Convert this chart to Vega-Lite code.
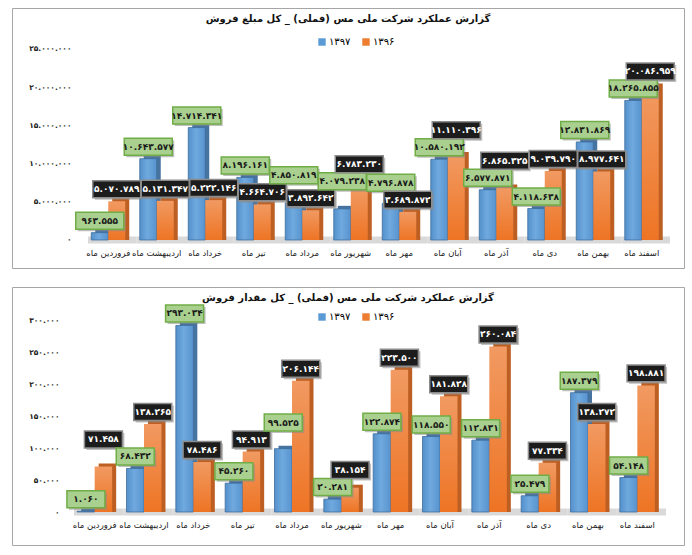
{
  "$schema": "https://vega.github.io/schema/vega-lite/v6.json",
  "padding": {"left": 11, "top": 7, "right": 0, "bottom": 0},
  "spacing": 17,
  "datasets": {
    "amount": [
      {"month": "فروردین ماه", "year": "۱۳۹۷", "value": 963555},
      {"month": "فروردین ماه", "year": "۱۳۹۶", "value": 5070789},
      {"month": "اردیبهشت ماه", "year": "۱۳۹۷", "value": 10643577},
      {"month": "اردیبهشت ماه", "year": "۱۳۹۶", "value": 5131347},
      {"month": "خرداد ماه", "year": "۱۳۹۷", "value": 14714341},
      {"month": "خرداد ماه", "year": "۱۳۹۶", "value": 5222146},
      {"month": "تیر ماه", "year": "۱۳۹۷", "value": 8196161},
      {"month": "تیر ماه", "year": "۱۳۹۶", "value": 4664706},
      {"month": "مرداد ماه", "year": "۱۳۹۷", "value": 4850819},
      {"month": "مرداد ماه", "year": "۱۳۹۶", "value": 3892642},
      {"month": "شهریور ماه", "year": "۱۳۹۷", "value": 4079238},
      {"month": "شهریور ماه", "year": "۱۳۹۶", "value": 6783230},
      {"month": "مهر ماه", "year": "۱۳۹۷", "value": 4796878},
      {"month": "مهر ماه", "year": "۱۳۹۶", "value": 3689872},
      {"month": "آبان ماه", "year": "۱۳۹۷", "value": 10580192},
      {"month": "آبان ماه", "year": "۱۳۹۶", "value": 11110396},
      {"month": "آذر ماه", "year": "۱۳۹۷", "value": 6577871},
      {"month": "آذر ماه", "year": "۱۳۹۶", "value": 6865325},
      {"month": "دی ماه", "year": "۱۳۹۷", "value": 4118638},
      {"month": "دی ماه", "year": "۱۳۹۶", "value": 9039790},
      {"month": "بهمن ماه", "year": "۱۳۹۷", "value": 12831869},
      {"month": "بهمن ماه", "year": "۱۳۹۶", "value": 8977641},
      {"month": "اسفند ماه", "year": "۱۳۹۷", "value": 18265855},
      {"month": "اسفند ماه", "year": "۱۳۹۶", "value": 20086959}
    ],
    "qty": [
      {"month": "فروردین ماه", "year": "۱۳۹۷", "value": 1060},
      {"month": "فروردین ماه", "year": "۱۳۹۶", "value": 71458},
      {"month": "اردیبهشت ماه", "year": "۱۳۹۷", "value": 68432},
      {"month": "اردیبهشت ماه", "year": "۱۳۹۶", "value": 138265},
      {"month": "خرداد ماه", "year": "۱۳۹۷", "value": 293034},
      {"month": "خرداد ماه", "year": "۱۳۹۶", "value": 78486},
      {"month": "تیر ماه", "year": "۱۳۹۷", "value": 45260},
      {"month": "تیر ماه", "year": "۱۳۹۶", "value": 94913},
      {"month": "مرداد ماه", "year": "۱۳۹۷", "value": 99525},
      {"month": "مرداد ماه", "year": "۱۳۹۶", "value": 206144},
      {"month": "شهریور ماه", "year": "۱۳۹۷", "value": 20281},
      {"month": "شهریور ماه", "year": "۱۳۹۶", "value": 38154},
      {"month": "مهر ماه", "year": "۱۳۹۷", "value": 122874},
      {"month": "مهر ماه", "year": "۱۳۹۶", "value": 223500},
      {"month": "آبان ماه", "year": "۱۳۹۷", "value": 118550},
      {"month": "آبان ماه", "year": "۱۳۹۶", "value": 181828},
      {"month": "آذر ماه", "year": "۱۳۹۷", "value": 112831},
      {"month": "آذر ماه", "year": "۱۳۹۶", "value": 260084},
      {"month": "دی ماه", "year": "۱۳۹۷", "value": 25479},
      {"month": "دی ماه", "year": "۱۳۹۶", "value": 77334},
      {"month": "بهمن ماه", "year": "۱۳۹۷", "value": 187379},
      {"month": "بهمن ماه", "year": "۱۳۹۶", "value": 138272},
      {"month": "اسفند ماه", "year": "۱۳۹۷", "value": 54148},
      {"month": "اسفند ماه", "year": "۱۳۹۶", "value": 198881}
    ]
  },
  "vconcat": [
    {
      "width": 672,
      "height": 260,
      "data": {"name": "amount"},
      "title": {"text": "گزارش عملکرد شرکت ملی مس (فملی) _ کل مبلغ فروش", "dy": 20},
      "encoding": {
        "x": {
          "field": "month", "type": "nominal",
          "sort": ["فروردین ماه", "اردیبهشت ماه", "خرداد ماه", "تیر ماه", "مرداد ماه", "شهریور ماه", "مهر ماه", "آبان ماه", "آذر ماه", "دی ماه", "بهمن ماه", "اسفند ماه"],
          "scale": {"range": [72, 654], "paddingInner": 0, "paddingOuter": 0},
          "axis": {"offset": -22}
        },
        "y": {
          "field": "value", "type": "quantitative",
          "scale": {"domain": [-3665000, 30366000], "nice": false, "zero": false},
          "axis": {"values": [0, 5000000, 10000000, 15000000, 20000000, 25000000], "offset": -59, "format": ",d"}
        }
      },
      "layer": [
        {
          "transform": [{"filter": "datum.year == '۱۳۹۷'"}],
          "mark": {"type": "bar", "xOffset": 4, "color": "#d9d9d9"},
          "encoding": {"y": {"datum": -450000}, "y2": {"datum": 450000}}
        },
        {
          "mark": {"type": "bar"},
          "encoding": {
            "y": {"datum": 0}, "y2": {"datum": 0},
            "color": {"field": "year", "type": "nominal", "title": null, "scale": {"domain": ["۱۳۹۷", "۱۳۹۶"], "range": ["#5b9bd5", "#ed7d31"]},
              "legend": {"orient": "none", "legendX": 305, "legendY": 29, "direction": "horizontal"}}
          }
        },
        {
          "transform": [{"filter": "datum.year == '۱۳۹۷'"}],
          "mark": {"type": "bar", "width": 17, "xOffset": -4.5, "yOffset": -3, "color": "#46739f"},
          "encoding": {"y2": {"datum": 0}}
        },
        {
          "transform": [{"filter": "datum.year == '۱۳۹۷'"}],
          "mark": {"type": "bar", "width": 17, "xOffset": -8.5, "stroke": "#3f6d9a", "strokeWidth": 0.8,
            "color": {"gradient": "linear", "x1": 0, "y1": 0, "x2": 1, "y2": 0, "stops": [{"offset": 0, "color": "#5490cc"}, {"offset": 0.45, "color": "#6fa9de"}, {"offset": 1, "color": "#5893cf"}]}},
          "encoding": {"y2": {"datum": 0}}
        },
        {
          "transform": [{"filter": "datum.year == '۱۳۹۶'"}],
          "mark": {"type": "bar", "width": 17, "xOffset": 12.5, "yOffset": -3, "color": "#bd5e22"},
          "encoding": {"y2": {"datum": 0}}
        },
        {
          "transform": [{"filter": "datum.year == '۱۳۹۶'"}],
          "mark": {"type": "bar", "width": 17, "xOffset": 8.5,
            "color": {"gradient": "linear", "x1": 0, "y1": 0, "x2": 0, "y2": 1, "stops": [{"offset": 0, "color": "#f19a62"}, {"offset": 1, "color": "#ee7424"}]}},
          "encoding": {"y2": {"datum": 0}}
        },
        {
          "transform": [
            {"window": [
              {"op": "lag", "field": "value", "as": "l"},
              {"op": "lead", "field": "value", "as": "r"},
              {"op": "lag", "field": "value", "param": 2, "as": "p"},
              {"op": "lead", "field": "value", "param": 2, "as": "q"}
            ]}
          ],
          "layer": [
            {"mark": {"type": "point", "shape": "M-1,-0.354H1V0.354H-1Z", "size": 2304, "filled": true, "fill": "#8a8a8a", "opacity": 0.55,
              "xOffset": {"expr": "datum.year == '۱۳۹۷' ? -6.5 : 10.5"},
              "yOffset": {"expr": "-10-0.00000764*max(max(0,(isValid(datum.l)&&datum.value>=datum.l&&datum.value-datum.l<2225000?2225000-datum.value+datum.l:0),(isValid(datum.r)&&datum.value>=datum.r&&datum.value-datum.r<2225000?2225000-datum.value+datum.r:0)),(isValid(datum.l)&&(datum.value+max(0,(isValid(datum.l)&&datum.value>=datum.l&&datum.value-datum.l<2225000?2225000-datum.value+datum.l:0),(isValid(datum.r)&&datum.value>=datum.r&&datum.value-datum.r<2225000?2225000-datum.value+datum.r:0)))>=(datum.l+max(0,(isValid(datum.p)&&datum.l>=datum.p&&datum.l-datum.p<2225000?2225000-datum.l+datum.p:0),(datum.l>=datum.value&&datum.l-datum.value<2225000?2225000-datum.l+datum.value:0)))&&(datum.value+max(0,(isValid(datum.l)&&datum.value>=datum.l&&datum.value-datum.l<2225000?2225000-datum.value+datum.l:0),(isValid(datum.r)&&datum.value>=datum.r&&datum.value-datum.r<2225000?2225000-datum.value+datum.r:0)))-(datum.l+max(0,(isValid(datum.p)&&datum.l>=datum.p&&datum.l-datum.p<2225000?2225000-datum.l+datum.p:0),(datum.l>=datum.value&&datum.l-datum.value<2225000?2225000-datum.l+datum.value:0)))<2225000?(datum.l+max(0,(isValid(datum.p)&&datum.l>=datum.p&&datum.l-datum.p<2225000?2225000-datum.l+datum.p:0),(datum.l>=datum.value&&datum.l-datum.value<2225000?2225000-datum.l+datum.value:0)))+2225000-datum.value:0),(isValid(datum.r)&&(datum.value+max(0,(isValid(datum.l)&&datum.value>=datum.l&&datum.value-datum.l<2225000?2225000-datum.value+datum.l:0),(isValid(datum.r)&&datum.value>=datum.r&&datum.value-datum.r<2225000?2225000-datum.value+datum.r:0)))>=(datum.r+max(0,(datum.r>=datum.value&&datum.r-datum.value<2225000?2225000-datum.r+datum.value:0),(isValid(datum.q)&&datum.r>=datum.q&&datum.r-datum.q<2225000?2225000-datum.r+datum.q:0)))&&(datum.value+max(0,(isValid(datum.l)&&datum.value>=datum.l&&datum.value-datum.l<2225000?2225000-datum.value+datum.l:0),(isValid(datum.r)&&datum.value>=datum.r&&datum.value-datum.r<2225000?2225000-datum.value+datum.r:0)))-(datum.r+max(0,(datum.r>=datum.value&&datum.r-datum.value<2225000?2225000-datum.r+datum.value:0),(isValid(datum.q)&&datum.r>=datum.q&&datum.r-datum.q<2225000?2225000-datum.r+datum.q:0)))<2225000?(datum.r+max(0,(datum.r>=datum.value&&datum.r-datum.value<2225000?2225000-datum.r+datum.value:0),(isValid(datum.q)&&datum.r>=datum.q&&datum.r-datum.q<2225000?2225000-datum.r+datum.q:0)))+2225000-datum.value:0))"}}},
            {"mark": {"type": "point", "shape": "M-1,-0.354H1V0.354H-1Z", "size": 2304, "filled": true, "strokeWidth": 1.5, "opacity": 1,
              "fill": {"expr": "datum.year == '۱۳۹۷' ? '#a9d08e' : '#1c1c1c'"},
              "stroke": {"expr": "datum.year == '۱۳۹۷' ? '#70ad47' : '#8c8c8c'"},
              "xOffset": {"expr": "datum.year == '۱۳۹۷' ? -8.5 : 8.5"},
              "yOffset": {"expr": "-12-0.00000764*max(max(0,(isValid(datum.l)&&datum.value>=datum.l&&datum.value-datum.l<2225000?2225000-datum.value+datum.l:0),(isValid(datum.r)&&datum.value>=datum.r&&datum.value-datum.r<2225000?2225000-datum.value+datum.r:0)),(isValid(datum.l)&&(datum.value+max(0,(isValid(datum.l)&&datum.value>=datum.l&&datum.value-datum.l<2225000?2225000-datum.value+datum.l:0),(isValid(datum.r)&&datum.value>=datum.r&&datum.value-datum.r<2225000?2225000-datum.value+datum.r:0)))>=(datum.l+max(0,(isValid(datum.p)&&datum.l>=datum.p&&datum.l-datum.p<2225000?2225000-datum.l+datum.p:0),(datum.l>=datum.value&&datum.l-datum.value<2225000?2225000-datum.l+datum.value:0)))&&(datum.value+max(0,(isValid(datum.l)&&datum.value>=datum.l&&datum.value-datum.l<2225000?2225000-datum.value+datum.l:0),(isValid(datum.r)&&datum.value>=datum.r&&datum.value-datum.r<2225000?2225000-datum.value+datum.r:0)))-(datum.l+max(0,(isValid(datum.p)&&datum.l>=datum.p&&datum.l-datum.p<2225000?2225000-datum.l+datum.p:0),(datum.l>=datum.value&&datum.l-datum.value<2225000?2225000-datum.l+datum.value:0)))<2225000?(datum.l+max(0,(isValid(datum.p)&&datum.l>=datum.p&&datum.l-datum.p<2225000?2225000-datum.l+datum.p:0),(datum.l>=datum.value&&datum.l-datum.value<2225000?2225000-datum.l+datum.value:0)))+2225000-datum.value:0),(isValid(datum.r)&&(datum.value+max(0,(isValid(datum.l)&&datum.value>=datum.l&&datum.value-datum.l<2225000?2225000-datum.value+datum.l:0),(isValid(datum.r)&&datum.value>=datum.r&&datum.value-datum.r<2225000?2225000-datum.value+datum.r:0)))>=(datum.r+max(0,(datum.r>=datum.value&&datum.r-datum.value<2225000?2225000-datum.r+datum.value:0),(isValid(datum.q)&&datum.r>=datum.q&&datum.r-datum.q<2225000?2225000-datum.r+datum.q:0)))&&(datum.value+max(0,(isValid(datum.l)&&datum.value>=datum.l&&datum.value-datum.l<2225000?2225000-datum.value+datum.l:0),(isValid(datum.r)&&datum.value>=datum.r&&datum.value-datum.r<2225000?2225000-datum.value+datum.r:0)))-(datum.r+max(0,(datum.r>=datum.value&&datum.r-datum.value<2225000?2225000-datum.r+datum.value:0),(isValid(datum.q)&&datum.r>=datum.q&&datum.r-datum.q<2225000?2225000-datum.r+datum.q:0)))<2225000?(datum.r+max(0,(datum.r>=datum.value&&datum.r-datum.value<2225000?2225000-datum.r+datum.value:0),(isValid(datum.q)&&datum.r>=datum.q&&datum.r-datum.q<2225000?2225000-datum.r+datum.q:0)))+2225000-datum.value:0))"}}},
            {"mark": {"type": "text", "font": "DejaVu Sans", "fontWeight": "bold", "fontSize": 9, "baseline": "middle",
              "fill": {"expr": "datum.year == '۱۳۹۷' ? '#1a1a1a' : '#ffffff'"},
              "xOffset": {"expr": "datum.year == '۱۳۹۷' ? -8.5 : 8.5"},
              "yOffset": {"expr": "-12-0.00000764*max(max(0,(isValid(datum.l)&&datum.value>=datum.l&&datum.value-datum.l<2225000?2225000-datum.value+datum.l:0),(isValid(datum.r)&&datum.value>=datum.r&&datum.value-datum.r<2225000?2225000-datum.value+datum.r:0)),(isValid(datum.l)&&(datum.value+max(0,(isValid(datum.l)&&datum.value>=datum.l&&datum.value-datum.l<2225000?2225000-datum.value+datum.l:0),(isValid(datum.r)&&datum.value>=datum.r&&datum.value-datum.r<2225000?2225000-datum.value+datum.r:0)))>=(datum.l+max(0,(isValid(datum.p)&&datum.l>=datum.p&&datum.l-datum.p<2225000?2225000-datum.l+datum.p:0),(datum.l>=datum.value&&datum.l-datum.value<2225000?2225000-datum.l+datum.value:0)))&&(datum.value+max(0,(isValid(datum.l)&&datum.value>=datum.l&&datum.value-datum.l<2225000?2225000-datum.value+datum.l:0),(isValid(datum.r)&&datum.value>=datum.r&&datum.value-datum.r<2225000?2225000-datum.value+datum.r:0)))-(datum.l+max(0,(isValid(datum.p)&&datum.l>=datum.p&&datum.l-datum.p<2225000?2225000-datum.l+datum.p:0),(datum.l>=datum.value&&datum.l-datum.value<2225000?2225000-datum.l+datum.value:0)))<2225000?(datum.l+max(0,(isValid(datum.p)&&datum.l>=datum.p&&datum.l-datum.p<2225000?2225000-datum.l+datum.p:0),(datum.l>=datum.value&&datum.l-datum.value<2225000?2225000-datum.l+datum.value:0)))+2225000-datum.value:0),(isValid(datum.r)&&(datum.value+max(0,(isValid(datum.l)&&datum.value>=datum.l&&datum.value-datum.l<2225000?2225000-datum.value+datum.l:0),(isValid(datum.r)&&datum.value>=datum.r&&datum.value-datum.r<2225000?2225000-datum.value+datum.r:0)))>=(datum.r+max(0,(datum.r>=datum.value&&datum.r-datum.value<2225000?2225000-datum.r+datum.value:0),(isValid(datum.q)&&datum.r>=datum.q&&datum.r-datum.q<2225000?2225000-datum.r+datum.q:0)))&&(datum.value+max(0,(isValid(datum.l)&&datum.value>=datum.l&&datum.value-datum.l<2225000?2225000-datum.value+datum.l:0),(isValid(datum.r)&&datum.value>=datum.r&&datum.value-datum.r<2225000?2225000-datum.value+datum.r:0)))-(datum.r+max(0,(datum.r>=datum.value&&datum.r-datum.value<2225000?2225000-datum.r+datum.value:0),(isValid(datum.q)&&datum.r>=datum.q&&datum.r-datum.q<2225000?2225000-datum.r+datum.q:0)))<2225000?(datum.r+max(0,(datum.r>=datum.value&&datum.r-datum.value<2225000?2225000-datum.r+datum.value:0),(isValid(datum.q)&&datum.r>=datum.q&&datum.r-datum.q<2225000?2225000-datum.r+datum.q:0)))+2225000-datum.value:0))"}},
              "encoding": {"text": {"field": "value", "type": "quantitative", "format": ",d"}}}
          ]
        }
      ]
    },
    {
      "width": 672,
      "height": 258,
      "data": {"name": "qty"},
      "title": {"text": "گزارش عملکرد شرکت ملی مس (فملی) _ کل مقدار فروش", "dy": 20},
      "encoding": {
        "x": {
          "field": "month", "type": "nominal",
          "sort": ["فروردین ماه", "اردیبهشت ماه", "خرداد ماه", "تیر ماه", "مرداد ماه", "شهریور ماه", "مهر ماه", "آبان ماه", "آذر ماه", "دی ماه", "بهمن ماه", "اسفند ماه"],
          "scale": {"range": [58, 650], "paddingInner": 0, "paddingOuter": 0},
          "axis": {"offset": -27}
        },
        "y": {
          "field": "value", "type": "quantitative",
          "scale": {"domain": [-51832, 353403], "nice": false, "zero": false},
          "axis": {"values": [0, 50000, 100000, 150000, 200000, 250000, 300000], "offset": -47, "format": ",d"}
        }
      },
      "layer": [
        {
          "transform": [{"filter": "datum.year == '۱۳۹۷'"}],
          "mark": {"type": "bar", "xOffset": 4, "color": "#d9d9d9"},
          "encoding": {"y": {"datum": -5500}, "y2": {"datum": 5500}}
        },
        {
          "mark": {"type": "bar"},
          "encoding": {
            "y": {"datum": 0}, "y2": {"datum": 0},
            "color": {"field": "year", "type": "nominal", "title": null, "scale": {"domain": ["۱۳۹۷", "۱۳۹۶"], "range": ["#5b9bd5", "#ed7d31"]},
              "legend": {"orient": "none", "legendX": 305, "legendY": 25, "direction": "horizontal"}}
          }
        },
        {
          "transform": [{"filter": "datum.year == '۱۳۹۷'"}],
          "mark": {"type": "bar", "width": 17.5, "xOffset": -4.75, "yOffset": -3, "color": "#46739f"},
          "encoding": {"y2": {"datum": 0}}
        },
        {
          "transform": [{"filter": "datum.year == '۱۳۹۷'"}],
          "mark": {"type": "bar", "width": 17.5, "xOffset": -8.75, "stroke": "#3f6d9a", "strokeWidth": 0.8,
            "color": {"gradient": "linear", "x1": 0, "y1": 0, "x2": 1, "y2": 0, "stops": [{"offset": 0, "color": "#5490cc"}, {"offset": 0.45, "color": "#6fa9de"}, {"offset": 1, "color": "#5893cf"}]}},
          "encoding": {"y2": {"datum": 0}}
        },
        {
          "transform": [{"filter": "datum.year == '۱۳۹۶'"}],
          "mark": {"type": "bar", "width": 17.5, "xOffset": 12.75, "yOffset": -3, "color": "#bd5e22"},
          "encoding": {"y2": {"datum": 0}}
        },
        {
          "transform": [{"filter": "datum.year == '۱۳۹۶'"}],
          "mark": {"type": "bar", "width": 17.5, "xOffset": 8.75,
            "color": {"gradient": "linear", "x1": 0, "y1": 0, "x2": 0, "y2": 1, "stops": [{"offset": 0, "color": "#f19a62"}, {"offset": 1, "color": "#ee7424"}]}},
          "encoding": {"y2": {"datum": 0}}
        },
        {
          "transform": [
            {"window": [
              {"op": "lag", "field": "value", "as": "l"},
              {"op": "lead", "field": "value", "as": "r"},
              {"op": "lag", "field": "value", "param": 2, "as": "p"},
              {"op": "lead", "field": "value", "param": 2, "as": "q"}
            ]}
          ],
          "layer": [
            {"mark": {"type": "point", "shape": "M-1,-0.447H1V0.447H-1Z", "size": 1444, "filled": true, "fill": "#8a8a8a", "opacity": 0.55,
              "xOffset": {"expr": "datum.year == '۱۳۹۷' ? -6.75 : 10.75"},
              "yOffset": {"expr": "-10-0.000637*max(max(0,(isValid(datum.l)&&datum.value>=datum.l&&datum.value-datum.l<26690?26690-datum.value+datum.l:0),(isValid(datum.r)&&datum.value>=datum.r&&datum.value-datum.r<26690?26690-datum.value+datum.r:0)),(isValid(datum.l)&&(datum.value+max(0,(isValid(datum.l)&&datum.value>=datum.l&&datum.value-datum.l<26690?26690-datum.value+datum.l:0),(isValid(datum.r)&&datum.value>=datum.r&&datum.value-datum.r<26690?26690-datum.value+datum.r:0)))>=(datum.l+max(0,(isValid(datum.p)&&datum.l>=datum.p&&datum.l-datum.p<26690?26690-datum.l+datum.p:0),(datum.l>=datum.value&&datum.l-datum.value<26690?26690-datum.l+datum.value:0)))&&(datum.value+max(0,(isValid(datum.l)&&datum.value>=datum.l&&datum.value-datum.l<26690?26690-datum.value+datum.l:0),(isValid(datum.r)&&datum.value>=datum.r&&datum.value-datum.r<26690?26690-datum.value+datum.r:0)))-(datum.l+max(0,(isValid(datum.p)&&datum.l>=datum.p&&datum.l-datum.p<26690?26690-datum.l+datum.p:0),(datum.l>=datum.value&&datum.l-datum.value<26690?26690-datum.l+datum.value:0)))<26690?(datum.l+max(0,(isValid(datum.p)&&datum.l>=datum.p&&datum.l-datum.p<26690?26690-datum.l+datum.p:0),(datum.l>=datum.value&&datum.l-datum.value<26690?26690-datum.l+datum.value:0)))+26690-datum.value:0),(isValid(datum.r)&&(datum.value+max(0,(isValid(datum.l)&&datum.value>=datum.l&&datum.value-datum.l<26690?26690-datum.value+datum.l:0),(isValid(datum.r)&&datum.value>=datum.r&&datum.value-datum.r<26690?26690-datum.value+datum.r:0)))>=(datum.r+max(0,(datum.r>=datum.value&&datum.r-datum.value<26690?26690-datum.r+datum.value:0),(isValid(datum.q)&&datum.r>=datum.q&&datum.r-datum.q<26690?26690-datum.r+datum.q:0)))&&(datum.value+max(0,(isValid(datum.l)&&datum.value>=datum.l&&datum.value-datum.l<26690?26690-datum.value+datum.l:0),(isValid(datum.r)&&datum.value>=datum.r&&datum.value-datum.r<26690?26690-datum.value+datum.r:0)))-(datum.r+max(0,(datum.r>=datum.value&&datum.r-datum.value<26690?26690-datum.r+datum.value:0),(isValid(datum.q)&&datum.r>=datum.q&&datum.r-datum.q<26690?26690-datum.r+datum.q:0)))<26690?(datum.r+max(0,(datum.r>=datum.value&&datum.r-datum.value<26690?26690-datum.r+datum.value:0),(isValid(datum.q)&&datum.r>=datum.q&&datum.r-datum.q<26690?26690-datum.r+datum.q:0)))+26690-datum.value:0))"}}},
            {"mark": {"type": "point", "shape": "M-1,-0.447H1V0.447H-1Z", "size": 1444, "filled": true, "strokeWidth": 1.5, "opacity": 1,
              "fill": {"expr": "datum.year == '۱۳۹۷' ? '#a9d08e' : '#1c1c1c'"},
              "stroke": {"expr": "datum.year == '۱۳۹۷' ? '#70ad47' : '#8c8c8c'"},
              "xOffset": {"expr": "datum.year == '۱۳۹۷' ? -8.75 : 8.75"},
              "yOffset": {"expr": "-12-0.000637*max(max(0,(isValid(datum.l)&&datum.value>=datum.l&&datum.value-datum.l<26690?26690-datum.value+datum.l:0),(isValid(datum.r)&&datum.value>=datum.r&&datum.value-datum.r<26690?26690-datum.value+datum.r:0)),(isValid(datum.l)&&(datum.value+max(0,(isValid(datum.l)&&datum.value>=datum.l&&datum.value-datum.l<26690?26690-datum.value+datum.l:0),(isValid(datum.r)&&datum.value>=datum.r&&datum.value-datum.r<26690?26690-datum.value+datum.r:0)))>=(datum.l+max(0,(isValid(datum.p)&&datum.l>=datum.p&&datum.l-datum.p<26690?26690-datum.l+datum.p:0),(datum.l>=datum.value&&datum.l-datum.value<26690?26690-datum.l+datum.value:0)))&&(datum.value+max(0,(isValid(datum.l)&&datum.value>=datum.l&&datum.value-datum.l<26690?26690-datum.value+datum.l:0),(isValid(datum.r)&&datum.value>=datum.r&&datum.value-datum.r<26690?26690-datum.value+datum.r:0)))-(datum.l+max(0,(isValid(datum.p)&&datum.l>=datum.p&&datum.l-datum.p<26690?26690-datum.l+datum.p:0),(datum.l>=datum.value&&datum.l-datum.value<26690?26690-datum.l+datum.value:0)))<26690?(datum.l+max(0,(isValid(datum.p)&&datum.l>=datum.p&&datum.l-datum.p<26690?26690-datum.l+datum.p:0),(datum.l>=datum.value&&datum.l-datum.value<26690?26690-datum.l+datum.value:0)))+26690-datum.value:0),(isValid(datum.r)&&(datum.value+max(0,(isValid(datum.l)&&datum.value>=datum.l&&datum.value-datum.l<26690?26690-datum.value+datum.l:0),(isValid(datum.r)&&datum.value>=datum.r&&datum.value-datum.r<26690?26690-datum.value+datum.r:0)))>=(datum.r+max(0,(datum.r>=datum.value&&datum.r-datum.value<26690?26690-datum.r+datum.value:0),(isValid(datum.q)&&datum.r>=datum.q&&datum.r-datum.q<26690?26690-datum.r+datum.q:0)))&&(datum.value+max(0,(isValid(datum.l)&&datum.value>=datum.l&&datum.value-datum.l<26690?26690-datum.value+datum.l:0),(isValid(datum.r)&&datum.value>=datum.r&&datum.value-datum.r<26690?26690-datum.value+datum.r:0)))-(datum.r+max(0,(datum.r>=datum.value&&datum.r-datum.value<26690?26690-datum.r+datum.value:0),(isValid(datum.q)&&datum.r>=datum.q&&datum.r-datum.q<26690?26690-datum.r+datum.q:0)))<26690?(datum.r+max(0,(datum.r>=datum.value&&datum.r-datum.value<26690?26690-datum.r+datum.value:0),(isValid(datum.q)&&datum.r>=datum.q&&datum.r-datum.q<26690?26690-datum.r+datum.q:0)))+26690-datum.value:0))"}}},
            {"mark": {"type": "text", "font": "DejaVu Sans", "fontWeight": "bold", "fontSize": 9, "baseline": "middle",
              "fill": {"expr": "datum.year == '۱۳۹۷' ? '#1a1a1a' : '#ffffff'"},
              "xOffset": {"expr": "datum.year == '۱۳۹۷' ? -8.75 : 8.75"},
              "yOffset": {"expr": "-12-0.000637*max(max(0,(isValid(datum.l)&&datum.value>=datum.l&&datum.value-datum.l<26690?26690-datum.value+datum.l:0),(isValid(datum.r)&&datum.value>=datum.r&&datum.value-datum.r<26690?26690-datum.value+datum.r:0)),(isValid(datum.l)&&(datum.value+max(0,(isValid(datum.l)&&datum.value>=datum.l&&datum.value-datum.l<26690?26690-datum.value+datum.l:0),(isValid(datum.r)&&datum.value>=datum.r&&datum.value-datum.r<26690?26690-datum.value+datum.r:0)))>=(datum.l+max(0,(isValid(datum.p)&&datum.l>=datum.p&&datum.l-datum.p<26690?26690-datum.l+datum.p:0),(datum.l>=datum.value&&datum.l-datum.value<26690?26690-datum.l+datum.value:0)))&&(datum.value+max(0,(isValid(datum.l)&&datum.value>=datum.l&&datum.value-datum.l<26690?26690-datum.value+datum.l:0),(isValid(datum.r)&&datum.value>=datum.r&&datum.value-datum.r<26690?26690-datum.value+datum.r:0)))-(datum.l+max(0,(isValid(datum.p)&&datum.l>=datum.p&&datum.l-datum.p<26690?26690-datum.l+datum.p:0),(datum.l>=datum.value&&datum.l-datum.value<26690?26690-datum.l+datum.value:0)))<26690?(datum.l+max(0,(isValid(datum.p)&&datum.l>=datum.p&&datum.l-datum.p<26690?26690-datum.l+datum.p:0),(datum.l>=datum.value&&datum.l-datum.value<26690?26690-datum.l+datum.value:0)))+26690-datum.value:0),(isValid(datum.r)&&(datum.value+max(0,(isValid(datum.l)&&datum.value>=datum.l&&datum.value-datum.l<26690?26690-datum.value+datum.l:0),(isValid(datum.r)&&datum.value>=datum.r&&datum.value-datum.r<26690?26690-datum.value+datum.r:0)))>=(datum.r+max(0,(datum.r>=datum.value&&datum.r-datum.value<26690?26690-datum.r+datum.value:0),(isValid(datum.q)&&datum.r>=datum.q&&datum.r-datum.q<26690?26690-datum.r+datum.q:0)))&&(datum.value+max(0,(isValid(datum.l)&&datum.value>=datum.l&&datum.value-datum.l<26690?26690-datum.value+datum.l:0),(isValid(datum.r)&&datum.value>=datum.r&&datum.value-datum.r<26690?26690-datum.value+datum.r:0)))-(datum.r+max(0,(datum.r>=datum.value&&datum.r-datum.value<26690?26690-datum.r+datum.value:0),(isValid(datum.q)&&datum.r>=datum.q&&datum.r-datum.q<26690?26690-datum.r+datum.q:0)))<26690?(datum.r+max(0,(datum.r>=datum.value&&datum.r-datum.value<26690?26690-datum.r+datum.value:0),(isValid(datum.q)&&datum.r>=datum.q&&datum.r-datum.q<26690?26690-datum.r+datum.q:0)))+26690-datum.value:0))"}},
              "encoding": {"text": {"field": "value", "type": "quantitative", "format": ",d"}}}
          ]
        }
      ]
    }
  ],
  "resolve": {"scale": {"color": "independent"}, "legend": {"color": "independent"}},
  "config": {
    "locale": {
      "number": {"decimal": "٫", "thousands": ".", "grouping": [3], "currency": ["", ""], "numerals": ["۰", "۱", "۲", "۳", "۴", "۵", "۶", "۷", "۸", "۹"]}
    },
    "font": "DejaVu Sans",
    "view": {"stroke": "#a6a6a6", "strokeWidth": 1},
    "title": {"font": "DejaVu Sans", "fontSize": 10, "fontWeight": "bold", "color": "#111111", "anchor": "middle"},
    "axisX": {"domain": false, "ticks": false, "grid": false, "title": null, "labelAngle": 0, "labelPadding": 2, "labelFont": "DejaVu Sans", "labelFontSize": 8.5, "labelColor": "#222222"},
    "axisY": {"domain": false, "ticks": false, "grid": false, "title": null, "labelPadding": 0, "labelFont": "DejaVu Sans", "labelFontSize": 7.5, "labelFontWeight": "bold", "labelColor": "#222222"},
    "legend": {"symbolType": "square", "symbolSize": 55, "symbolStrokeWidth": 0, "labelFont": "DejaVu Sans", "labelFontSize": 10, "labelOffset": 2, "columnPadding": 10}
  }
}
